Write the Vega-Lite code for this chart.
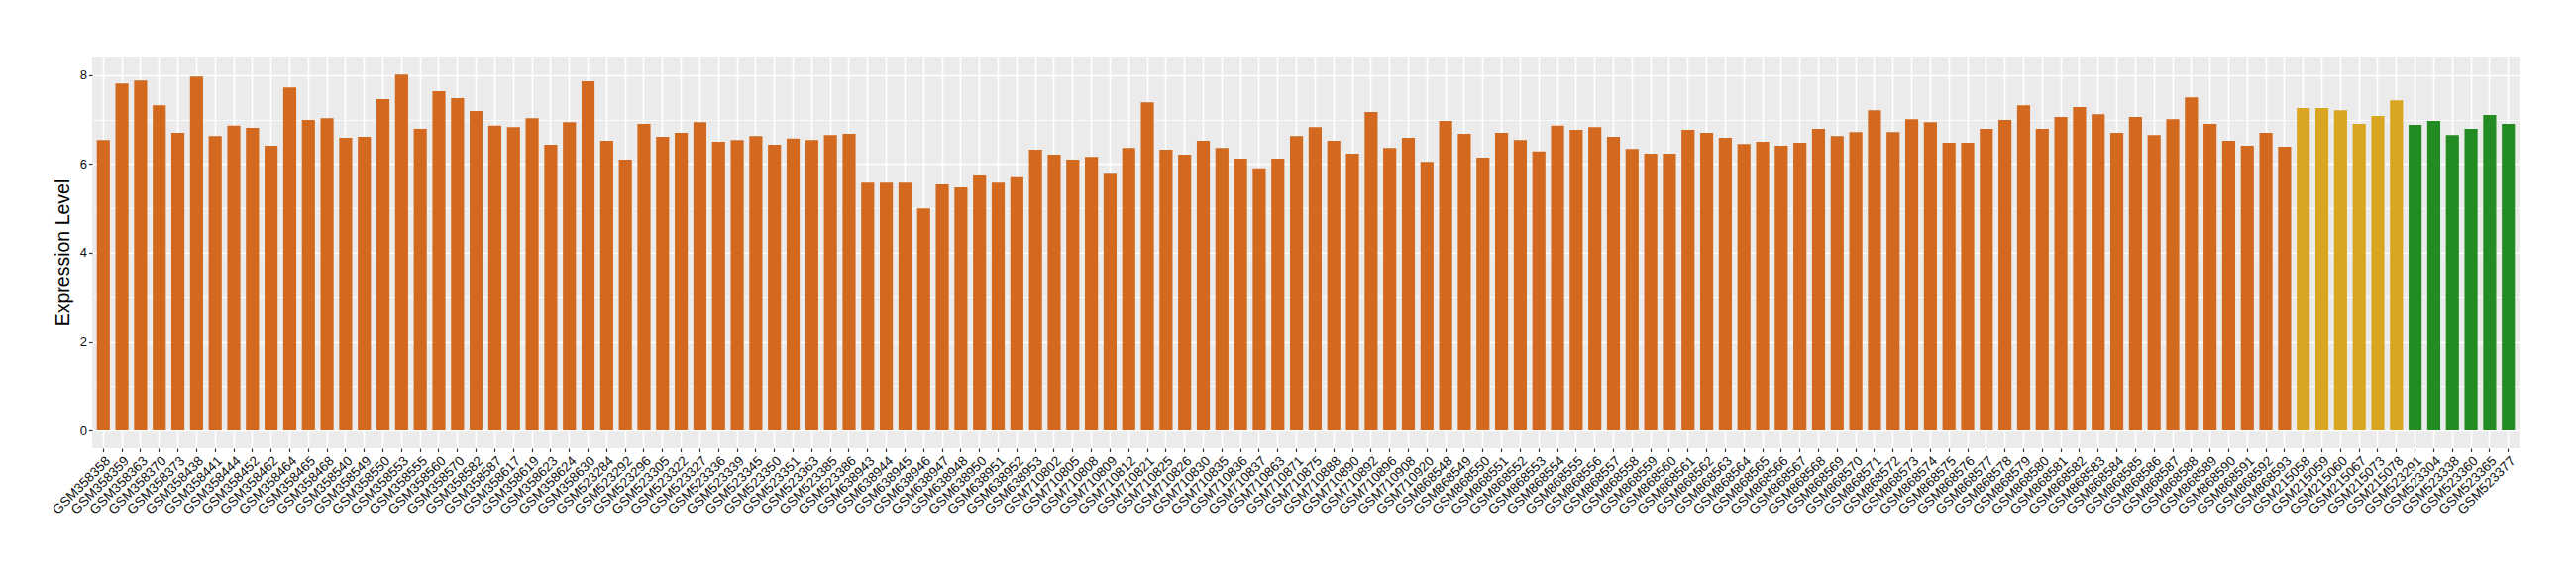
{
  "$schema": "https://vega.github.io/schema/vega-lite/v6.json",
  "width": 2450,
  "height": 395,
  "autosize": {"type": "none"},
  "padding": {"left": 93, "top": 57, "right": 57, "bottom": 128},
  "background": "white",
  "config": {
    "view": {"fill": "#EBEBEB", "stroke": null},
    "font": "Liberation Sans"
  },
  "data": {"values": [
    {"sample": "GSM358358", "value": 6.54, "group": "A"},
    {"sample": "GSM358359", "value": 7.81, "group": "A"},
    {"sample": "GSM358363", "value": 7.88, "group": "A"},
    {"sample": "GSM358370", "value": 7.32, "group": "A"},
    {"sample": "GSM358373", "value": 6.70, "group": "A"},
    {"sample": "GSM358438", "value": 7.97, "group": "A"},
    {"sample": "GSM358441", "value": 6.63, "group": "A"},
    {"sample": "GSM358444", "value": 6.86, "group": "A"},
    {"sample": "GSM358452", "value": 6.81, "group": "A"},
    {"sample": "GSM358462", "value": 6.41, "group": "A"},
    {"sample": "GSM358464", "value": 7.72, "group": "A"},
    {"sample": "GSM358465", "value": 6.99, "group": "A"},
    {"sample": "GSM358468", "value": 7.03, "group": "A"},
    {"sample": "GSM358540", "value": 6.59, "group": "A"},
    {"sample": "GSM358549", "value": 6.61, "group": "A"},
    {"sample": "GSM358550", "value": 7.46, "group": "A"},
    {"sample": "GSM358553", "value": 8.01, "group": "A"},
    {"sample": "GSM358555", "value": 6.79, "group": "A"},
    {"sample": "GSM358560", "value": 7.64, "group": "A"},
    {"sample": "GSM358570", "value": 7.48, "group": "A"},
    {"sample": "GSM358582", "value": 7.19, "group": "A"},
    {"sample": "GSM358587", "value": 6.86, "group": "A"},
    {"sample": "GSM358617", "value": 6.83, "group": "A"},
    {"sample": "GSM358619", "value": 7.03, "group": "A"},
    {"sample": "GSM358623", "value": 6.43, "group": "A"},
    {"sample": "GSM358624", "value": 6.94, "group": "A"},
    {"sample": "GSM358630", "value": 7.86, "group": "A"},
    {"sample": "GSM523284", "value": 6.52, "group": "A"},
    {"sample": "GSM523292", "value": 6.10, "group": "A"},
    {"sample": "GSM523296", "value": 6.90, "group": "A"},
    {"sample": "GSM523305", "value": 6.61, "group": "A"},
    {"sample": "GSM523322", "value": 6.70, "group": "A"},
    {"sample": "GSM523327", "value": 6.94, "group": "A"},
    {"sample": "GSM523336", "value": 6.50, "group": "A"},
    {"sample": "GSM523339", "value": 6.54, "group": "A"},
    {"sample": "GSM523345", "value": 6.63, "group": "A"},
    {"sample": "GSM523350", "value": 6.43, "group": "A"},
    {"sample": "GSM523351", "value": 6.57, "group": "A"},
    {"sample": "GSM523363", "value": 6.54, "group": "A"},
    {"sample": "GSM523385", "value": 6.65, "group": "A"},
    {"sample": "GSM523386", "value": 6.68, "group": "A"},
    {"sample": "GSM638943", "value": 5.58, "group": "A"},
    {"sample": "GSM638944", "value": 5.58, "group": "A"},
    {"sample": "GSM638945", "value": 5.58, "group": "A"},
    {"sample": "GSM638946", "value": 5.00, "group": "A"},
    {"sample": "GSM638947", "value": 5.54, "group": "A"},
    {"sample": "GSM638948", "value": 5.47, "group": "A"},
    {"sample": "GSM638950", "value": 5.74, "group": "A"},
    {"sample": "GSM638951", "value": 5.58, "group": "A"},
    {"sample": "GSM638952", "value": 5.70, "group": "A"},
    {"sample": "GSM638953", "value": 6.32, "group": "A"},
    {"sample": "GSM710802", "value": 6.21, "group": "A"},
    {"sample": "GSM710805", "value": 6.10, "group": "A"},
    {"sample": "GSM710808", "value": 6.16, "group": "A"},
    {"sample": "GSM710809", "value": 5.78, "group": "A"},
    {"sample": "GSM710812", "value": 6.36, "group": "A"},
    {"sample": "GSM710821", "value": 7.39, "group": "A"},
    {"sample": "GSM710825", "value": 6.32, "group": "A"},
    {"sample": "GSM710826", "value": 6.21, "group": "A"},
    {"sample": "GSM710830", "value": 6.52, "group": "A"},
    {"sample": "GSM710835", "value": 6.36, "group": "A"},
    {"sample": "GSM710836", "value": 6.12, "group": "A"},
    {"sample": "GSM710837", "value": 5.90, "group": "A"},
    {"sample": "GSM710863", "value": 6.12, "group": "A"},
    {"sample": "GSM710871", "value": 6.63, "group": "A"},
    {"sample": "GSM710875", "value": 6.83, "group": "A"},
    {"sample": "GSM710888", "value": 6.52, "group": "A"},
    {"sample": "GSM710890", "value": 6.23, "group": "A"},
    {"sample": "GSM710892", "value": 7.17, "group": "A"},
    {"sample": "GSM710896", "value": 6.36, "group": "A"},
    {"sample": "GSM710908", "value": 6.59, "group": "A"},
    {"sample": "GSM710920", "value": 6.05, "group": "A"},
    {"sample": "GSM868548", "value": 6.97, "group": "A"},
    {"sample": "GSM868549", "value": 6.68, "group": "A"},
    {"sample": "GSM868550", "value": 6.14, "group": "A"},
    {"sample": "GSM868551", "value": 6.70, "group": "A"},
    {"sample": "GSM868552", "value": 6.54, "group": "A"},
    {"sample": "GSM868553", "value": 6.28, "group": "A"},
    {"sample": "GSM868554", "value": 6.86, "group": "A"},
    {"sample": "GSM868555", "value": 6.77, "group": "A"},
    {"sample": "GSM868556", "value": 6.83, "group": "A"},
    {"sample": "GSM868557", "value": 6.61, "group": "A"},
    {"sample": "GSM868558", "value": 6.34, "group": "A"},
    {"sample": "GSM868559", "value": 6.23, "group": "A"},
    {"sample": "GSM868560", "value": 6.23, "group": "A"},
    {"sample": "GSM868561", "value": 6.77, "group": "A"},
    {"sample": "GSM868562", "value": 6.70, "group": "A"},
    {"sample": "GSM868563", "value": 6.59, "group": "A"},
    {"sample": "GSM868564", "value": 6.45, "group": "A"},
    {"sample": "GSM868565", "value": 6.50, "group": "A"},
    {"sample": "GSM868566", "value": 6.41, "group": "A"},
    {"sample": "GSM868567", "value": 6.48, "group": "A"},
    {"sample": "GSM868568", "value": 6.79, "group": "A"},
    {"sample": "GSM868569", "value": 6.63, "group": "A"},
    {"sample": "GSM868570", "value": 6.72, "group": "A"},
    {"sample": "GSM868571", "value": 7.21, "group": "A"},
    {"sample": "GSM868572", "value": 6.72, "group": "A"},
    {"sample": "GSM868573", "value": 7.01, "group": "A"},
    {"sample": "GSM868574", "value": 6.94, "group": "A"},
    {"sample": "GSM868575", "value": 6.48, "group": "A"},
    {"sample": "GSM868576", "value": 6.48, "group": "A"},
    {"sample": "GSM868577", "value": 6.79, "group": "A"},
    {"sample": "GSM868578", "value": 6.99, "group": "A"},
    {"sample": "GSM868579", "value": 7.32, "group": "A"},
    {"sample": "GSM868580", "value": 6.79, "group": "A"},
    {"sample": "GSM868581", "value": 7.06, "group": "A"},
    {"sample": "GSM868582", "value": 7.28, "group": "A"},
    {"sample": "GSM868583", "value": 7.12, "group": "A"},
    {"sample": "GSM868584", "value": 6.70, "group": "A"},
    {"sample": "GSM868585", "value": 7.06, "group": "A"},
    {"sample": "GSM868586", "value": 6.65, "group": "A"},
    {"sample": "GSM868587", "value": 7.01, "group": "A"},
    {"sample": "GSM868588", "value": 7.50, "group": "A"},
    {"sample": "GSM868589", "value": 6.90, "group": "A"},
    {"sample": "GSM868590", "value": 6.52, "group": "A"},
    {"sample": "GSM868591", "value": 6.41, "group": "A"},
    {"sample": "GSM868592", "value": 6.70, "group": "A"},
    {"sample": "GSM868593", "value": 6.39, "group": "A"},
    {"sample": "GSM215058", "value": 7.26, "group": "B"},
    {"sample": "GSM215059", "value": 7.26, "group": "B"},
    {"sample": "GSM215060", "value": 7.21, "group": "B"},
    {"sample": "GSM215067", "value": 6.90, "group": "B"},
    {"sample": "GSM215073", "value": 7.08, "group": "B"},
    {"sample": "GSM215078", "value": 7.43, "group": "B"},
    {"sample": "GSM523291", "value": 6.88, "group": "C"},
    {"sample": "GSM523304", "value": 6.97, "group": "C"},
    {"sample": "GSM523338", "value": 6.65, "group": "C"},
    {"sample": "GSM523360", "value": 6.79, "group": "C"},
    {"sample": "GSM523365", "value": 7.10, "group": "C"},
    {"sample": "GSM523377", "value": 6.90, "group": "C"}
  ]},
  "mark": {"type": "bar"},
  "encoding": {
    "x": {
      "field": "sample",
      "type": "nominal",
      "sort": null,
      "scale": {"paddingInner": 0.3, "paddingOuter": 0.25},
      "axis": {
        "title": null,
        "domain": false,
        "grid": true,
        "gridColor": "white",
        "gridWidth": 1.6,
        "bandPosition": 0.5,
        "ticks": true,
        "tickColor": "#333333",
        "tickSize": 3.5,
        "tickWidth": 1.2,
        "labelAngle": -45,
        "labelAlign": "right",
        "labelBaseline": "top",
        "labelPadding": 2,
        "labelFontSize": 13.5,
        "labelColor": "#111111",
        "labelOverlap": false,
        "labelFont": "Liberation Sans"
      }
    },
    "y": {
      "field": "value",
      "type": "quantitative",
      "scale": {"domain": [-0.4, 8.42], "nice": false, "zero": false},
      "axis": {
        "title": "Expression Level",
        "titleFontSize": 19.5,
        "titleFontWeight": "normal",
        "titleColor": "black",
        "titleFont": "Liberation Sans",
        "titlePadding": 7,
        "values": [0, 1, 2, 3, 4, 5, 6, 7, 8],
        "domain": false,
        "grid": true,
        "gridColor": "white",
        "gridWidth": {"condition": {"test": "datum.value % 2 === 1", "value": 0.8}, "value": 1.6},
        "tickColor": "#333333",
        "tickSize": 3.5,
        "tickWidth": 1.2,
        "tickOpacity": {"condition": {"test": "datum.value % 2 === 1", "value": 0}, "value": 1},
        "labelExpr": "datum.value % 2 === 0 ? datum.label : ''",
        "labelFontSize": 13,
        "labelColor": "#111111",
        "labelPadding": 2,
        "labelFont": "Liberation Sans"
      }
    },
    "y2": {"datum": 0},
    "color": {
      "field": "group",
      "type": "nominal",
      "scale": {"domain": ["A", "B", "C"], "range": ["#D2691E", "#DAA520", "#228B22"]},
      "legend": null
    }
  }
}
